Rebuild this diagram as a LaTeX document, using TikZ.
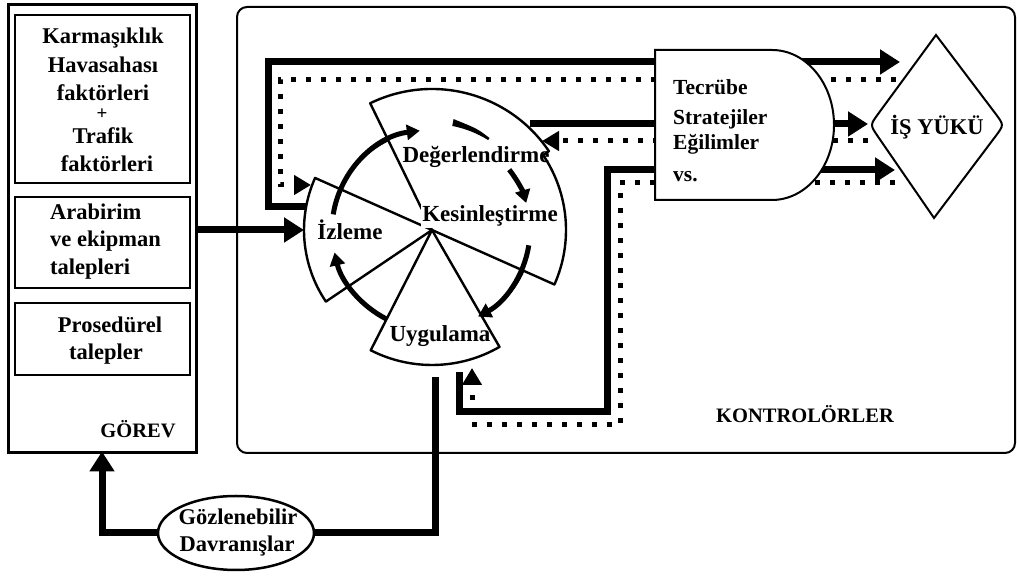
\documentclass[tikz,border=0pt]{standalone}
\usepackage{fontspec}
\setmainfont{Liberation Serif}
\usetikzlibrary{arrows.meta,shapes.geometric,backgrounds}
\begin{document}
\begin{tikzpicture}[x=1pt,y=1pt,
  thinline/.style={line width=2pt},
  framebox/.style={draw,line width=2pt,inner sep=0pt},
  lbl/.style={font=\fontsize{22.5}{26}\selectfont\bfseries,inner sep=0pt,anchor=base},
  lblw/.style={lbl,anchor=base west},
  piel/.style={font=\fontsize{23}{27}\selectfont\bfseries,inner sep=0pt,anchor=base},
  pie/.style={line width=2.4pt,line join=round},
  flow/.style={line width=7pt,-{Triangle[length=20pt,width=24pt]}},
  flowplain/.style={line width=7pt},
  feedback/.style={line width=5pt,dash pattern=on 5pt off 10pt,-{Triangle[length=17pt,width=19pt]}},
  turn/.style={line width=5pt,-{Triangle[length=13pt,width=15pt]}}]
\useasboundingbox (0,0) rectangle (1017,577);

% task block with its three demand boxes
\node[framebox,line width=3pt,minimum width=188pt,minimum height=448pt] (gorev) at (102,348) {};
\node[framebox,minimum width=175pt,minimum height=168pt] (b1) at (102.5,478) {};
\node[framebox,minimum width=175pt,minimum height=91pt] (b2) at (102.5,334.5) {};
\node[framebox,minimum width=175pt,minimum height=72pt] (b3) at (102.5,238) {};
\node[lbl] (k1) at (103,533) {Karmaşıklık};
\node[lbl] (k2) at (103,504) {Havasahası};
\node[lbl] (k3) at (103,476) {faktörleri};
\node[lbl,anchor=center,font=\fontsize{19}{22}\selectfont\bfseries] (k4) at (102,462.5) {+};
\node[lbl] (k5) at (103,433) {Trafik};
\node[lbl] (k6) at (107,405) {faktörleri};
\node[lblw] (a1) at (50,357) {Arabirim};
\node[lblw] (a2) at (50,330) {ve ekipman};
\node[lblw] (a3) at (50,302) {talepleri};
\node[lbl] (p1) at (110,244) {Prosedürel};
\node[lbl] (p2) at (106,217) {talepler};
\node[lbl,font=\fontsize{20.5}{24}\selectfont\bfseries] (gorevlbl) at (138,139) {GÖREV};

% controllers frame
\node[framebox,rounded corners=10pt,minimum width=778pt,minimum height=446pt] (kont) at (626,347) {};
\node[lbl,font=\fontsize{20.5}{24}\selectfont\bfseries] (kontlbl) at (805,154) {KONTROLÖRLER};

% experience / strategies block
\draw[thinline,fill=white] (655,527) -- (772,527)
  arc[start angle=90,end angle=-90,x radius=62,y radius=75] -- (655,377) -- cycle;
\node[lblw,font=\fontsize{21.5}{25}\selectfont\bfseries] (t1) at (673,482) {Tecrübe};
\node[lblw,font=\fontsize{21.5}{25}\selectfont\bfseries] (t2) at (673,452) {Stratejiler};
\node[lblw,font=\fontsize{21.5}{25}\selectfont\bfseries] (t3) at (673,427) {Eğilimler};
\node[lblw,font=\fontsize{21.5}{25}\selectfont\bfseries] (t4) at (673,395) {vs.};

% workload diamond
\draw[thinline,fill=white] (936,542) -- (878.3,463.3) .. controls (870,452) .. (877.9,440.5)
  -- (934,359) -- (995.6,440.8) .. controls (1004,452) .. (995.6,463.2) -- cycle;
\node[lbl,font=\fontsize{22.5}{26}\selectfont\bfseries] (wl) at (937,442) {İŞ YÜKÜ};

% observable behaviour
\node[ellipse,draw,line width=2.5pt,fill=white,minimum width=156pt,minimum height=74pt] (ge) at (236,44) {};
\node[lbl] (g1) at (238,52) {Gözlenebilir};
\node[lbl] (g2) at (237,25) {Davranışlar};

% control cycle wheel
\coordinate (C) at (432,347);
\begin{scope}[shift={(C)}]
\draw[pie,fill=white] (156:128) arc[start angle=156,end angle=214,radius=128]
  -- (214:100) arc[start angle=214,end angle=243,radius=100]
  -- (243:135) arc[start angle=243,end angle=300,radius=135]
  -- (300:100) arc[start angle=300,end angle=336,radius=100]
  -- (336:134) arc[start angle=336,end angle=394,radius=134]
  -- (34:141) arc[start angle=34,end angle=116,radius=141]
  -- (116:100) arc[start angle=116,end angle=156,radius=100]
  -- cycle;
\draw[pie] (156:100) -- (336:100);
\draw[pie] (0,0) -- (116:100);
\draw[pie] (0,0) -- (214:100);
\draw[pie] (0,0) -- (243:100);
\draw[pie] (0,0) -- (300:100);
\draw[turn] (171:100) arc[start angle=171,end angle=97,radius=100];
\fill (79:106) arc[start angle=79,end angle=58,radius=106] -- (58:108.5)
  .. controls (66:111) .. (79:113) -- cycle;
\draw[turn] (38:98) arc[start angle=38,end angle=16,radius=98];
\draw[turn] (-9:98) arc[start angle=-9,end angle=-62,radius=98];
\draw[turn] (243:100) arc[start angle=243,end angle=193,radius=100];
\end{scope}
\node[piel] (deg) at (476,414) {Değerlendirme};
\node[piel,fill=white,inner sep=1pt] (kes) at (490,355) {Kesinleştirme};
\node[piel] (izl) at (350,337) {İzleme};
\node[piel] (uyg) at (440,235) {Uygulama};

% connector end points
\coordinate (izT) at (306,370);
\coordinate (izIn) at (304,347);
\coordinate (izD) at (311,392);
\coordinate (cTL) at (268,515);
\coordinate (dTL) at (280,497);
\coordinate (wlT) at (900,515);
\coordinate (wlD1) at (896,497);
\coordinate (degT) at (530,453);
\coordinate (wlM) at (868,453);
\coordinate (wlD2) at (868,436);
\coordinate (degD) at (542,436);
\coordinate (uT) at (459,205);
\coordinate (cB1) at (607,165);
\coordinate (wlB) at (895,407);
\coordinate (wlD3) at (895,394);
\coordinate (dB1) at (620,152);
\coordinate (uD) at (472,209);
\coordinate (uO) at (435,200);

\begin{pgfonlayer}{background}
\draw[flow] (izT) -| (cTL) -- (wlT);
\draw[feedback] (wlD1) -- (dTL) |- (izD);
\draw[flow] (degT) -- (wlM);
\draw[feedback] (wlD2) -- (degD);
\draw[flow] (uT) |- (cB1) |- (wlB);
\draw[feedback] (wlD3) -| (dB1) -| (uD);
\draw[flow] (gorev.east |- izIn) -- (izIn);
\draw[flowplain] (uO) |- (ge.east);
\draw[flow,shorten >=-3pt] (ge.west) -| (gorev.south);
\end{pgfonlayer}
\end{tikzpicture}
\end{document}
